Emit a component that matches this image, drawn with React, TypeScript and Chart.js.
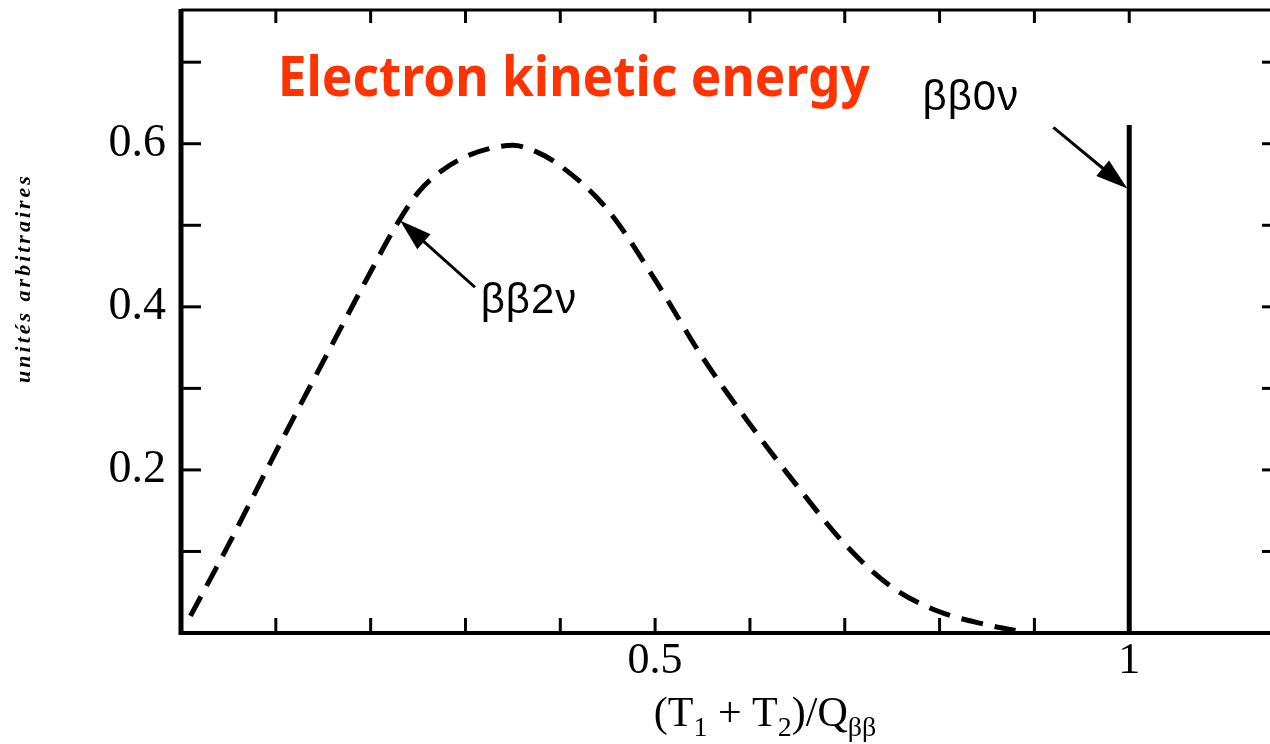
import React, { useEffect, useRef } from "react";
import { Chart, registerables } from "chart.js";

Chart.register(...registerables);

// Two-neutrino spectrum of the summed electron kinetic energy (arbitrary units)
const energyFraction = [0.01, 0.05, 0.1, 0.15, 0.2, 0.225, 0.25, 0.275, 0.3, 0.325, 0.35, 0.375, 0.4, 0.45, 0.5, 0.55, 0.6, 0.65, 0.7, 0.75, 0.8, 0.85, 0.88];
const twoNuSpectrum = [0.021, 0.108, 0.222, 0.333, 0.443, 0.496, 0.54, 0.567, 0.584, 0.594, 0.598, 0.59, 0.573, 0.519, 0.433, 0.338, 0.256, 0.18, 0.109, 0.056, 0.026, 0.01, 0.003];

// Neutrinoless line at the full Q value
const zeroNuX = [1, 1];
const zeroNuY = [0, 0.623];

// Labelled ticks
const xTickLabels = ["0.5", "1"];
const yTickLabels = ["0.2", "0.4", "0.6"];

const X_MIN = 0;
const X_MAX = 1.159;
const Y_MIN = 0;
const Y_MAX = 0.764;

const TITLE = "Electron kinetic energy";
const Y_TITLE = "unités arbitraires";

// Annotation anchors in data units
const twoNuArrow = { from: [0.31, 0.424], to: [0.231, 0.506] };
const zeroNuArrow = { from: [0.92, 0.62], to: [0.998, 0.545] };
const twoNuText = { at: [0.316, 0.393], text: "ββ2ν" };
const zeroNuText = { at: [0.782, 0.641], text: "ββ0ν" };
const titleAnchor = [0.102, 0.659];

const near = (v: number, s: string) => Math.abs(v - parseFloat(s)) < 1e-6;

function drawArrow(ctx: CanvasRenderingContext2D, x1: number, y1: number, x2: number, y2: number) {
  const ang = Math.atan2(y2 - y1, x2 - x1);
  const headLen = 32;
  const headHalf = 10;
  ctx.save();
  ctx.strokeStyle = "#000";
  ctx.fillStyle = "#000";
  ctx.lineWidth = 3;
  ctx.beginPath();
  ctx.moveTo(x1, y1);
  ctx.lineTo(x2 - Math.cos(ang) * headLen * 0.8, y2 - Math.sin(ang) * headLen * 0.8);
  ctx.stroke();
  const bx = x2 - Math.cos(ang) * headLen;
  const by = y2 - Math.sin(ang) * headLen;
  ctx.beginPath();
  ctx.moveTo(x2, y2);
  ctx.lineTo(bx + Math.sin(ang) * headHalf, by - Math.cos(ang) * headHalf);
  ctx.lineTo(bx - Math.sin(ang) * headHalf, by + Math.cos(ang) * headHalf);
  ctx.closePath();
  ctx.fill();
  ctx.restore();
}

const framePlugin = {
  id: "frameAndNotes",
  afterDatasetsDraw(chart: any) {
    const { ctx, chartArea: a, scales } = chart;
    const xs = scales.x;
    const ys = scales.y;
    const px = (v: number) => xs.getPixelForValue(v);
    const py = (v: number) => ys.getPixelForValue(v);
    ctx.save();
    ctx.strokeStyle = "#000";
    ctx.lineCap = "butt";

    // frame
    const line = (w: number, x1: number, y1: number, x2: number, y2: number) => {
      ctx.lineWidth = w;
      ctx.beginPath();
      ctx.moveTo(x1, y1);
      ctx.lineTo(x2, y2);
      ctx.stroke();
    };
    line(3, a.left, a.top, a.right, a.top);
    line(3, a.right, a.top, a.right, a.bottom);
    line(4, a.left - 2, a.bottom, a.right, a.bottom);
    line(5, a.left, a.top - 1, a.left, a.bottom + 2);

    // inward ticks on all four sides
    xs.ticks.forEach((t: any) => {
      const v = t.value;
      if (v <= X_MIN + 1e-6 || v >= X_MAX - 1e-6) return;
      const x = px(v);
      line(3, x, a.bottom, x, a.bottom - 15);
      line(3, x, a.top, x, a.top + 13);
    });
    ys.ticks.forEach((t: any) => {
      const v = t.value;
      if (v <= Y_MIN + 1e-6 || v >= Y_MAX - 1e-6) return;
      const y = py(v);
      line(3, a.left, y, a.left + 20, y);
      line(3, a.right, y, a.right - 18, y);
    });

    // arrows
    drawArrow(ctx, px(twoNuArrow.from[0]), py(twoNuArrow.from[1]), px(twoNuArrow.to[0]), py(twoNuArrow.to[1]));
    drawArrow(ctx, px(zeroNuArrow.from[0]), py(zeroNuArrow.from[1]), px(zeroNuArrow.to[0]), py(zeroNuArrow.to[1]));

    // labels for the two processes
    ctx.fillStyle = "#000";
    ctx.textBaseline = "alphabetic";
    ctx.textAlign = "left";
    ctx.save();
    ctx.font = '42px "Liberation Sans", sans-serif';
    (ctx as any).letterSpacing = "1px";
    ctx.fillText(twoNuText.text, px(twoNuText.at[0]), py(twoNuText.at[1]));
    ctx.fillText(zeroNuText.text, px(zeroNuText.at[0]), py(zeroNuText.at[1]));
    ctx.restore();

    // title
    ctx.font = 'bold 56px "Noto Sans", sans-serif';
    const tw = ctx.measureText(TITLE).width;
    const target = 592;
    ctx.save();
    ctx.translate(px(titleAnchor[0]), py(titleAnchor[1]));
    ctx.scale(target / tw, 1);
    ctx.fillStyle = "#ff3300";
    ctx.fillText(TITLE, 0, 0);
    ctx.restore();

    // y axis title, rotated
    ctx.save();
    ctx.translate(24, 278);
    ctx.rotate(-Math.PI / 2);
    ctx.font = 'italic bold 22px "Liberation Serif", serif';
    (ctx as any).letterSpacing = "3px";
    ctx.textAlign = "center";
    ctx.textBaseline = "middle";
    ctx.fillStyle = "#000";
    ctx.fillText(Y_TITLE, 0, 0);
    ctx.restore();

    // x axis title with subscripts
    const big = '42px "Liberation Serif", serif';
    const small = '28px "Liberation Serif", serif';
    const parts: [string, boolean][] = [
      ["(T", false],
      ["1", true],
      [" + T", false],
      ["2", true],
      [")/Q", false],
      ["ββ", true],
    ];
    let total = 0;
    parts.forEach(([s, sub]) => {
      ctx.font = sub ? small : big;
      total += ctx.measureText(s).width;
    });
    let cx = 765 - total / 2;
    const base = 726;
    parts.forEach(([s, sub]) => {
      ctx.font = sub ? small : big;
      ctx.fillText(s, cx, sub ? base + 10 : base);
      cx += ctx.measureText(s).width;
    });

    ctx.restore();
  },
};

export default function App() {
  const ref = useRef<HTMLCanvasElement | null>(null);

  useEffect(() => {
    if (!ref.current) return;
    const chart = new Chart(ref.current, {
      type: "line",
      data: {
        datasets: [
          {
            label: "ββ2ν",
            data: energyFraction.map((x, i) => ({ x, y: twoNuSpectrum[i] })),
            borderColor: "#000",
            borderWidth: 5,
            borderDash: [22, 12],
            pointRadius: 0,
            cubicInterpolationMode: "monotone",
            fill: false,
          },
          {
            label: "ββ0ν",
            data: zeroNuX.map((x, i) => ({ x, y: zeroNuY[i] })),
            borderColor: "#000",
            borderWidth: 5,
            pointRadius: 0,
            fill: false,
          },
        ],
      },
      options: {
        responsive: false,
        animation: false,
        events: [],
        layout: { padding: { top: 10, right: 10, left: 0, bottom: 0 } },
        plugins: {
          legend: { display: false },
          tooltip: { enabled: false },
        },
        scales: {
          x: {
            type: "linear",
            min: X_MIN,
            max: X_MAX,
            grid: { display: false, drawTicks: false },
            border: { display: false },
            ticks: {
              stepSize: 0.1,
              padding: 2,
              autoSkip: false,
              maxRotation: 0,
              color: "#000",
              font: { family: '"Liberation Serif", serif', size: 44 },
              callback: (v: any) => {
                const f = xTickLabels.find((s) => near(Number(v), s));
                return f ?? "";
              },
            },
            afterFit: (s: any) => {
              s.height = 111;
              s.paddingLeft = 0;
              s.paddingRight = 0;
            },
          },
          y: {
            type: "linear",
            min: Y_MIN,
            max: Y_MAX,
            grid: { display: false, drawTicks: false },
            border: { display: false },
            ticks: {
              stepSize: 0.1,
              padding: 15,
              autoSkip: false,
              color: "#000",
              font: { family: '"Liberation Serif", serif', size: 46 },
              callback: (v: any) => {
                const f = yTickLabels.find((s) => near(Number(v), s));
                return f ?? "";
              },
            },
            afterFit: (s: any) => {
              s.width = 181;
              s.paddingTop = 0;
              s.paddingBottom = 0;
            },
          },
        },
      },
      plugins: [framePlugin],
    });
    return () => chart.destroy();
  }, []);

  return (
    <div
      style={{
        position: "absolute",
        left: 0,
        top: 0,
        width: 1270,
        height: 744,
        overflow: "hidden",
        background: "#fff",
      }}
    >
      <canvas ref={ref} width={1290} height={744} style={{ width: 1290, height: 744, display: "block" }} />
    </div>
  );
}
